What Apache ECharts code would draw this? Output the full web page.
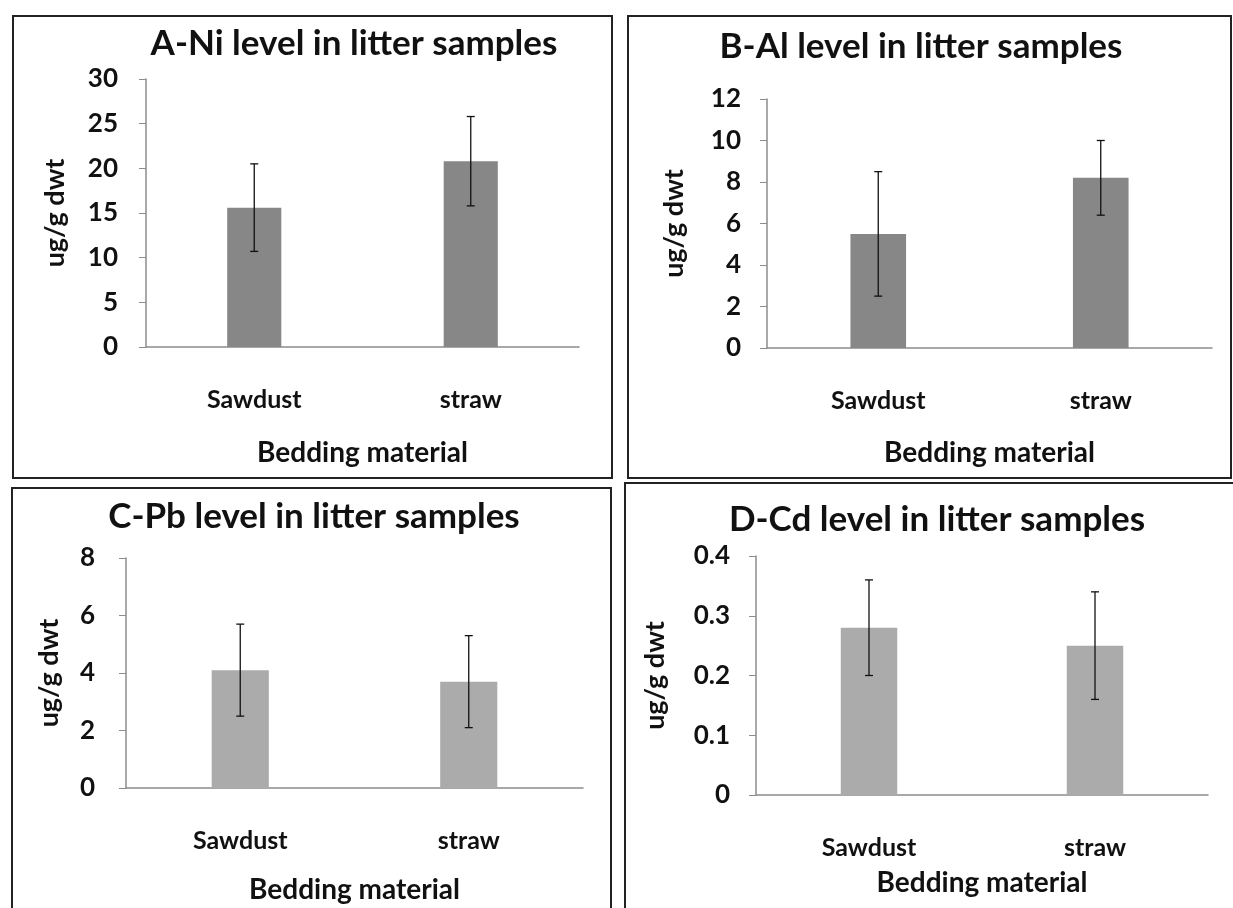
<!DOCTYPE html>
<html>
<head>
<meta charset="utf-8">
<script src="https://cdn.jsdelivr.net/npm/echarts@6/dist/echarts.min.js"></script>
<style>
  html, body { margin: 0; padding: 0; background: #fff; }
  #chart { width: 1233px; height: 908px; }
</style>
</head>
<body>
<div id="chart"></div>
<script>
// data
var categories = ["Sawdust", "straw"];
var titles = [
  "A-Ni level in litter samples",
  "B-Al level in litter samples",
  "C-Pb level in litter samples",
  "D-Cd level in litter samples"
];
var niMean = [15.6, 20.8];
var niErr = [4.9, 5.0];
var alMean = [5.5, 8.2];
var alErr = [3.0, 1.8];
var pbMean = [4.1, 3.7];
var pbErr = [1.6, 1.6];
var cdMean = [0.28, 0.25];
var cdErr = [0.08, 0.09];
var yMax = [30, 12, 8, 0.4];
var yStep = [5, 2, 2, 0.1];

var means = [niMean, alMean, pbMean, cdMean];
var errs = [niErr, alErr, pbErr, cdErr];

// layout of the four panels
var grids = [
  { left: 146, top: 79, width: 433, height: 268 },
  { left: 767, top: 99, width: 445, height: 249 },
  { left: 126, top: 558, width: 457, height: 230 },
  { left: 756, top: 556, width: 452, height: 239 }
];
var titlePos = [[354, 26], [921, 29], [314, 499], [937, 502]];
var yNameGap = [77, 79, 63, 87];
var yLabelMargin = [28, 26, 31, 26];
var xNameGap = [92, 91, 88, 74];
var barColors = ["#878787", "#878787", "#ababab", "#ababab"];
var boxes = [
  [13, 16, 599, 462],
  [628, 16, 603, 462],
  [12, 488, 599, 430],
  [625, 483, 620, 440]
];

var FONT = "Lato";
var chart = echarts.init(document.getElementById("chart"));

function errorSeries(i) {
  var m = means[i], e = errs[i];
  return {
    type: "custom",
    xAxisIndex: i,
    yAxisIndex: i,
    silent: true,
    z: 10,
    data: m.map(function (v, k) { return [k, v - e[k], v + e[k]]; }),
    renderItem: function (params, api) {
      var lo = api.coord([api.value(0), api.value(1)]);
      var hi = api.coord([api.value(0), api.value(2)]);
      var w = 4;
      var st = { stroke: "#111", lineWidth: 1.3 };
      return {
        type: "group",
        children: [
          { type: "line", shape: { x1: hi[0], y1: hi[1], x2: lo[0], y2: lo[1] }, style: st },
          { type: "line", shape: { x1: hi[0] - w, y1: hi[1], x2: hi[0] + w, y2: hi[1] }, style: st },
          { type: "line", shape: { x1: lo[0] - w, y1: lo[1], x2: lo[0] + w, y2: lo[1] }, style: st }
        ]
      };
    }
  };
}

var option = {
  backgroundColor: "#fff",
  animation: false,
  title: titles.map(function (t, i) {
    return {
      text: t,
      left: titlePos[i][0],
      top: titlePos[i][1],
      textAlign: "center",
      padding: 0,
      textStyle: { fontFamily: FONT, fontWeight: "bold", fontSize: 35, color: "#111" }
    };
  }),
  grid: grids,
  xAxis: grids.map(function (g, i) {
    return {
      type: "category",
      gridIndex: i,
      data: categories,
      name: "Bedding material",
      nameLocation: "middle",
      nameGap: xNameGap[i],
      nameTextStyle: { fontFamily: FONT, fontWeight: "bold", fontSize: 28, color: "#111" },
      axisLine: { lineStyle: { color: "#8c8c8c", width: 1.5 } },
      axisTick: { show: false },
      axisLabel: { margin: 40, fontFamily: FONT, fontWeight: "bold", fontSize: 25, color: "#111" },
      splitLine: { show: false }
    };
  }),
  yAxis: grids.map(function (g, i) {
    return {
      type: "value",
      gridIndex: i,
      min: 0,
      max: yMax[i],
      interval: yStep[i],
      name: "ug/g dwt",
      nameLocation: "middle",
      nameGap: yNameGap[i],
      nameRotate: 90,
      nameTextStyle: { fontFamily: FONT, fontWeight: "bold", fontSize: 27, color: "#111" },
      axisLine: { show: true, lineStyle: { color: "#8c8c8c", width: 1.5 } },
      axisTick: { show: true, length: 7, lineStyle: { color: "#8c8c8c" } },
      axisLabel: { margin: yLabelMargin[i], fontFamily: FONT, fontWeight: "bold", fontSize: 26, color: "#111" },
      splitLine: { show: false }
    };
  }),
  series: [],
  graphic: boxes.map(function (b) {
    return {
      type: "rect",
      shape: { x: b[0], y: b[1], width: b[2], height: b[3] },
      style: { fill: "none", stroke: "#222", lineWidth: 2 },
      silent: true
    };
  })
};

for (var i = 0; i < 4; i++) {
  option.series.push({
    type: "bar",
    xAxisIndex: i,
    yAxisIndex: i,
    data: means[i],
    barWidth: "25%",
    itemStyle: { color: barColors[i] }
  });
  option.series.push(errorSeries(i));
}

chart.setOption(option);
</script>
</body>
</html>
